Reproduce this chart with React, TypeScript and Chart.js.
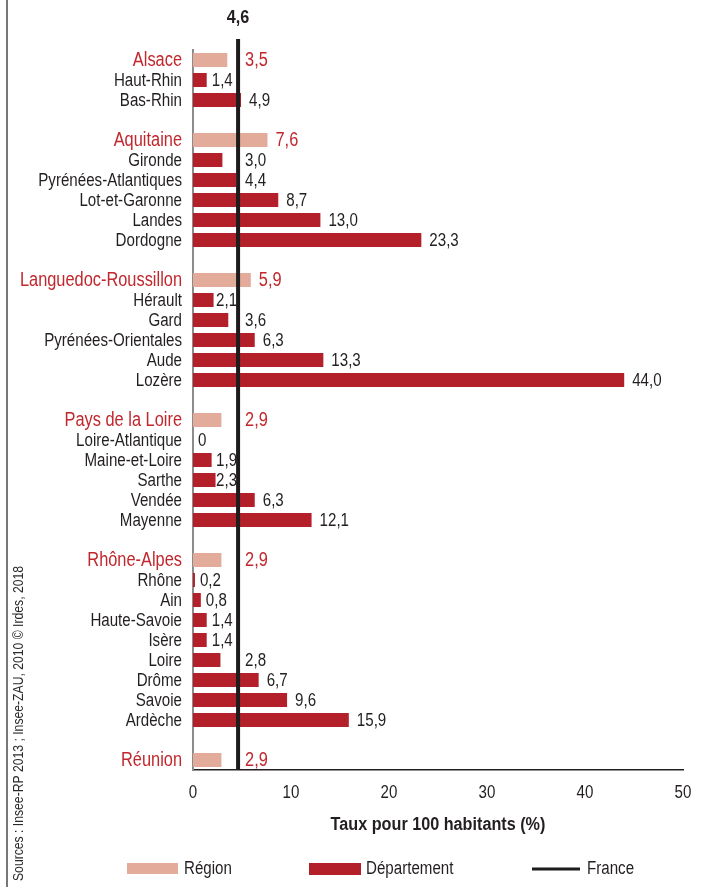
import React, { useEffect, useRef } from "react";
import { Chart, registerables } from "chart.js";

Chart.register(...registerables);

// Régions and their rate (taux pour 100 habitants)
const regions = [
  "Alsace",
  "Aquitaine",
  "Languedoc-Roussillon",
  "Pays de la Loire",
  "Rhône-Alpes",
  "Réunion",
];
const regionRates = [3.5, 7.6, 5.9, 2.9, 2.9, 2.9];

// Départements of each région, in display order
const departments = [
  ["Haut-Rhin", "Bas-Rhin"],
  ["Gironde", "Pyrénées-Atlantiques", "Lot-et-Garonne", "Landes", "Dordogne"],
  ["Hérault", "Gard", "Pyrénées-Orientales", "Aude", "Lozère"],
  ["Loire-Atlantique", "Maine-et-Loire", "Sarthe", "Vendée", "Mayenne"],
  ["Rhône", "Ain", "Haute-Savoie", "Isère", "Loire", "Drôme", "Savoie", "Ardèche"],
  [],
];
const departmentRates = [
  [1.4, 4.9],
  [3.0, 4.4, 8.7, 13.0, 23.3],
  [2.1, 3.6, 6.3, 13.3, 44.0],
  [0, 1.9, 2.3, 6.3, 12.1],
  [0.2, 0.8, 1.4, 1.4, 2.8, 6.7, 9.6, 15.9],
  [],
];

// National reference
const franceRate = 4.6;

// Horizontal axis
const xMin = 0;
const xMax = 50;
const xStep = 10;
const xTitle = "Taux pour 100 habitants (%)";

const legendLabels = ["Région", "Département", "France"];
const sourceText = "Sources : Insee-RP 2013 ; Insee-ZAU, 2010 © Irdes, 2018";

const FONT = '"Liberation Sans", Arial, sans-serif';
const NARROW = 0.84; // horizontal squeeze giving a condensed face
const NARROW_BOLD = 0.9;
const BASE_FONT = `18px ${FONT}`;
const REGION_FONT = `19.5px ${FONT}`;
const TEXT = "#231f20";
const RED_TEXT = "#c1272d";
const REGION_BAR = "#e3ab9a";
const DEPT_BAR = "#b3202a";
const FRANCE_LINE = "#1d1b1c";

function fmt(v: number): string {
  return v === 0 ? "0" : v.toFixed(1).replace(".", ",");
}

// Flatten régions + départements into one category list, with blank spacer rows
const labels: string[] = [];
const regionSeries: (number | null)[] = [];
const deptSeries: (number | null)[] = [];
const isRegionRow: boolean[] = [];
regions.forEach((r, i) => {
  labels.push(r);
  regionSeries.push(regionRates[i]);
  deptSeries.push(null);
  isRegionRow.push(true);
  departments[i].forEach((d, j) => {
    labels.push(d);
    regionSeries.push(null);
    deptSeries.push(departmentRates[i][j]);
    isRegionRow.push(false);
  });
  if (i < regions.length - 1) {
    labels.push("");
    regionSeries.push(null);
    deptSeries.push(null);
    isRegionRow.push(false);
  }
});

// Draws condensed text: the glyphs are squeezed horizontally around the anchor
function narrowText(
  ctx: CanvasRenderingContext2D,
  txt: string,
  x: number,
  y: number,
  opts: { align?: CanvasTextAlign; color?: string; font?: string; sx?: number } = {}
) {
  ctx.save();
  ctx.font = opts.font ?? BASE_FONT;
  ctx.fillStyle = opts.color ?? TEXT;
  ctx.textAlign = opts.align ?? "left";
  ctx.textBaseline = "middle";
  ctx.translate(x, y);
  ctx.scale(opts.sx ?? NARROW, 1);
  ctx.fillText(txt, 0, 0);
  ctx.restore();
}

function narrowWidth(ctx: CanvasRenderingContext2D, txt: string, font: string, sx: number) {
  ctx.save();
  ctx.font = font;
  const w = ctx.measureText(txt).width * sx;
  ctx.restore();
  return w;
}

const annotations = {
  id: "annotations",
  afterDatasetsDraw(chart: any) {
    const { ctx, chartArea, scales } = chart;
    const x = scales.x;
    const y = scales.y;
    const lineX = x.getPixelForValue(franceRate);

    // Category labels (régions in red, slightly larger)
    labels.forEach((lab, i) => {
      if (!lab) return;
      narrowText(ctx, lab, chartArea.left - 11, y.getPixelForTick(i) + 1, {
        align: "right",
        color: isRegionRow[i] ? RED_TEXT : TEXT,
        font: isRegionRow[i] ? REGION_FONT : BASE_FONT,
      });
    });

    // Horizontal tick labels
    x.ticks.forEach((t: any, i: number) => {
      narrowText(ctx, String(t.value), x.getPixelForTick(i), chartArea.bottom + 23, {
        align: "center",
      });
    });

    // France reference line and its value
    ctx.save();
    ctx.strokeStyle = FRANCE_LINE;
    ctx.lineWidth = 4;
    ctx.beginPath();
    ctx.moveTo(lineX, chartArea.top - 11);
    ctx.lineTo(lineX, chartArea.bottom);
    ctx.stroke();
    ctx.restore();
    narrowText(ctx, fmt(franceRate), lineX, 18, {
      align: "center",
      font: `bold 18px ${FONT}`,
      sx: NARROW_BOLD,
    });

    // Value labels beside each bar: tucked before the France line when they fit,
    // otherwise pushed past it
    labels.forEach((_, i) => {
      const v = regionSeries[i] ?? deptSeries[i];
      if (v === null || v === undefined) return;
      const txt = fmt(v);
      const font = isRegionRow[i] ? REGION_FONT : BASE_FONT;
      const w = narrowWidth(ctx, txt, font, NARROW);
      const end = x.getPixelForValue(v);
      let left = Math.min(end + 5, lineX - 1 - w);
      if (left < end - 1) {
        left = Math.max(end + 8, lineX + 7);
      }
      narrowText(ctx, txt, left, y.getPixelForValue(i) + 1, {
        color: isRegionRow[i] ? RED_TEXT : TEXT,
        font,
      });
    });
  },
  afterDraw(chart: any) {
    const { ctx, chartArea, height } = chart;

    // Axis title
    narrowText(ctx, xTitle, (chartArea.left + chartArea.right) / 2, 825, {
      align: "center",
      font: `bold 18px ${FONT}`,
      sx: NARROW_BOLD,
    });

    // Legend
    const ly = 869;
    ctx.save();
    ctx.fillStyle = REGION_BAR;
    ctx.fillRect(127, ly - 6, 51, 11);
    ctx.fillStyle = DEPT_BAR;
    ctx.fillRect(309, ly - 6, 52, 12);
    ctx.strokeStyle = FRANCE_LINE;
    ctx.lineWidth = 3;
    ctx.beginPath();
    ctx.moveTo(532, ly);
    ctx.lineTo(580, ly);
    ctx.stroke();

    // Left frame rule
    ctx.strokeStyle = "#4a4a4a";
    ctx.lineWidth = 1.5;
    ctx.beginPath();
    ctx.moveTo(7, 0);
    ctx.lineTo(7, height);
    ctx.stroke();
    ctx.restore();

    narrowText(ctx, legendLabels[0], 184, ly);
    narrowText(ctx, legendLabels[1], 366, ly);
    narrowText(ctx, legendLabels[2], 587, ly);

    // Source note, reading bottom to top
    ctx.save();
    ctx.translate(19, 881);
    ctx.rotate(-Math.PI / 2);
    narrowText(ctx, sourceText, 0, 0, { font: `14.5px ${FONT}`, color: "#2b2b2b" });
    ctx.restore();
  },
};

export default function App() {
  const ref = useRef<HTMLCanvasElement | null>(null);

  useEffect(() => {
    if (!ref.current) return;
    const chart = new Chart(ref.current, {
      type: "bar",
      data: {
        labels,
        datasets: [
          {
            label: legendLabels[0],
            data: regionSeries,
            backgroundColor: REGION_BAR,
            borderWidth: 0,
            grouped: false,
            barPercentage: 0.7,
            categoryPercentage: 1,
          },
          {
            label: legendLabels[1],
            data: deptSeries,
            backgroundColor: DEPT_BAR,
            borderWidth: 0,
            grouped: false,
            barPercentage: 0.7,
            categoryPercentage: 1,
          },
        ],
      },
      options: {
        indexAxis: "y",
        responsive: false,
        animation: false,
        layout: { padding: { top: 50, right: 19, left: 0, bottom: 0 } },
        plugins: {
          legend: { display: false },
          tooltip: { enabled: false },
        },
        scales: {
          x: {
            min: xMin,
            max: xMax,
            grid: { display: false, drawTicks: false },
            border: { display: true, color: TEXT, width: 1.5 },
            ticks: { stepSize: xStep, display: false },
            afterFit(scale: any) {
              scale.height = 117;
            },
          },
          y: {
            grid: { display: false, drawTicks: false },
            border: { display: true, color: "#8c8c8c", width: 2 },
            ticks: { autoSkip: false, display: false },
            afterFit(scale: any) {
              scale.width = 193;
            },
          },
        },
      },
      plugins: [annotations],
    });
    return () => chart.destroy();
  }, []);

  return (
    <div style={{ position: "fixed", left: 0, top: 0, width: 702, height: 887, background: "#fff" }}>
      <canvas ref={ref} width={702} height={887} />
    </div>
  );
}
